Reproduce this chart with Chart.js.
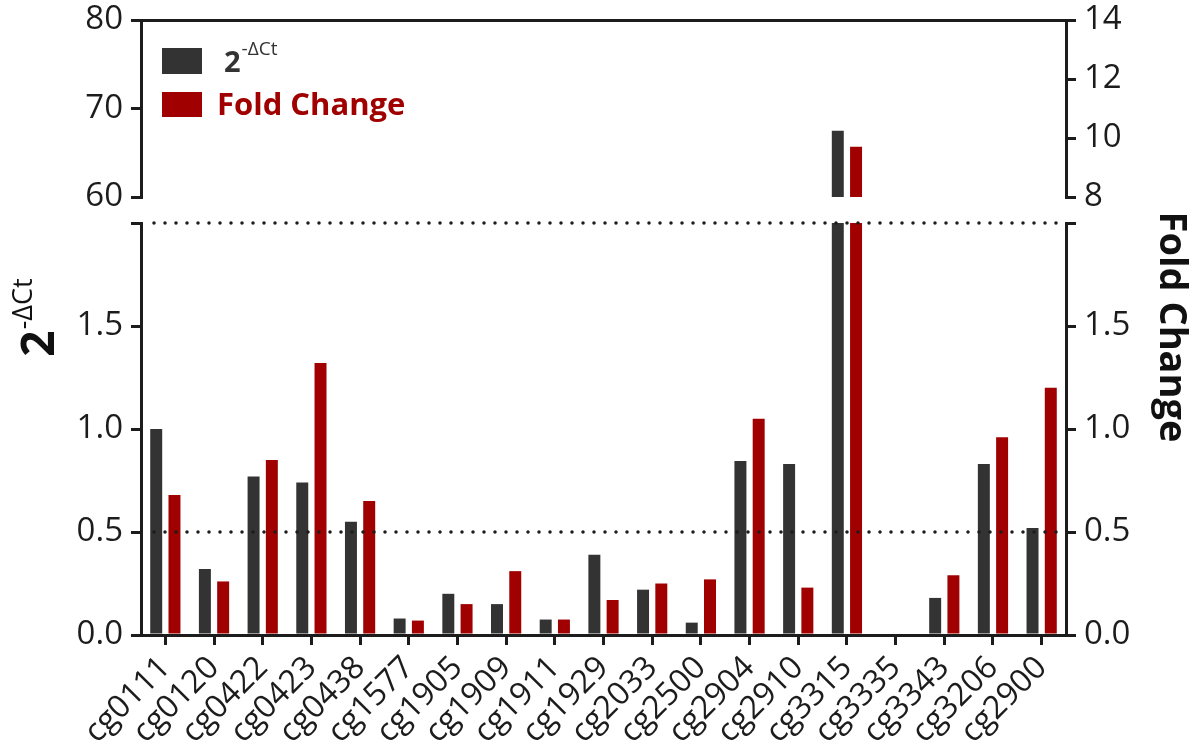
<!DOCTYPE html>
<html>
<head>
<meta charset="utf-8">
<title>2^-ΔCt and fold change per CpG probe</title>
<script src="https://cdn.jsdelivr.net/npm/chart.js@4.4.1/dist/chart.umd.min.js"></script>
<style>
  html, body { margin: 0; padding: 0; background: #ffffff; }
  #stage { position: relative; width: 1198px; height: 749px; overflow: hidden; }
  #stage canvas { position: absolute; left: 0; }
  #lower-canvas { top: 160px; }
  #upper-canvas { top: -40px; }
</style>
</head>
<body>
<div id="stage">
  <canvas id="lower-canvas" width="1198" height="589"></canvas>
  <canvas id="upper-canvas" width="1198" height="280"></canvas>
</div>
<script>
// probes on the x axis
const probes = [
  "cg0111", "cg0120", "cg0422", "cg0423", "cg0438", "cg1577", "cg1905",
  "cg1909", "cg1911", "cg1929", "cg2033", "cg2500", "cg2904", "cg2910",
  "cg3315", "cg3335", "cg3343", "cg3206", "cg2900",
];

// 2^-dCt (left axis) and fold change (right axis)
const deltaCtValues = [
  1.0, 0.32, 0.77, 0.74, 0.55, 0.08, 0.2,
  0.15, 0.075, 0.39, 0.22, 0.06, 0.845, 0.83,
  67.5, 0, 0.18, 0.83, 0.52,
];
const foldChangeValues = [
  0.68, 0.26, 0.85, 1.32, 0.65, 0.07, 0.15,
  0.31, 0.075, 0.17, 0.25, 0.27, 1.05, 0.23,
  9.7, 0, 0.29, 0.96, 1.2,
];

// broken axis: lower segment shared by both axes, upper segment per axis
const lowerTicks = [0, 0.5, 1.0, 1.5, 2.0];
const upperLeftTicks = [60, 70, 80];
const upperRightTicks = [8, 10, 12, 14];
const referenceLevels = [0.5, 2.0];

const INK = "#1c1c1c";
const DARK_BAR = "#333333";
const RED_BAR = "#a00000";
const FONT_FAMILY = "'Open Sans', 'DejaVu Sans', sans-serif";
const TICK_FONT = { family: FONT_FAMILY, size: 33 };
const CATEGORY_FONT = { family: FONT_FAMILY, size: 32 };

const LOWER_TOP = 160; // page offset of the lower canvas
const UPPER_TOP = -40; // page offset of the upper canvas
const LEFT_AXIS_WIDTH = 141;
const RIGHT_AXIS_WIDTH = 132;

function valueAxis(position, tickValues, width, format) {
  return {
    type: "linear",
    position,
    min: tickValues[0],
    max: tickValues[tickValues.length - 1],
    afterBuildTicks(scale) {
      scale.ticks = tickValues.map((value) => ({ value }));
    },
    afterFit(scale) {
      scale.width = width;
    },
    border: { display: true, color: INK, width: 3 },
    grid: { drawOnChartArea: false, color: INK, lineWidth: 3, tickLength: 10 },
    ticks: { color: INK, padding: 8, font: TICK_FONT, callback: format },
  };
}

function barDatasets() {
  return [
    {
      label: "2-ΔCt",
      data: deltaCtValues,
      yAxisID: "yL",
      backgroundColor: DARK_BAR,
      categoryPercentage: 0.75,
      barPercentage: 0.656,
      clip: 0,
    },
    {
      label: "Fold Change",
      data: foldChangeValues,
      yAxisID: "yR",
      backgroundColor: RED_BAR,
      categoryPercentage: 0.75,
      barPercentage: 0.656,
      clip: 0,
    },
  ];
}

const formatLower = (value) => (value === 2 ? "" : Number(value).toFixed(1));
const formatUpper = (value) => String(value);

// dotted reference lines, drawn over the bars
const dottedLines = {
  id: "dottedLines",
  afterDatasetsDraw(chart) {
    const { ctx, chartArea } = chart;
    const scale = chart.scales.yL;
    ctx.save();
    ctx.strokeStyle = INK;
    ctx.lineWidth = 3.5;
    ctx.lineCap = "round";
    ctx.setLineDash([0, 11]);
    referenceLevels.forEach((level) => {
      const y = scale.getPixelForValue(level);
      ctx.beginPath();
      ctx.moveTo(chartArea.left + 13, y);
      ctx.lineTo(chartArea.right - 8, y);
      ctx.stroke();
    });
    ctx.restore();
  },
};

// axis titles span both segments, so they are placed by page position
const axisTitles = {
  id: "axisTitles",
  afterDraw(chart) {
    const ctx = chart.ctx;
    ctx.save();
    ctx.textBaseline = "alphabetic";

    // left: 2 with superscript -ΔCt, reading upwards
    ctx.translate(54, 318 - LOWER_TOP);
    ctx.rotate(-Math.PI / 2);
    ctx.fillStyle = "#111111";
    ctx.font = `bold 46px ${FONT_FAMILY}`;
    const baseWidth = ctx.measureText("2").width;
    ctx.font = `27px ${FONT_FAMILY}`;
    const supWidth = ctx.measureText("-ΔCt").width;
    const startX = -(baseWidth + supWidth) / 2;
    ctx.font = `bold 46px ${FONT_FAMILY}`;
    ctx.textAlign = "left";
    ctx.fillText("2", startX, 0);
    ctx.font = `27px ${FONT_FAMILY}`;
    ctx.fillText("-ΔCt", startX + baseWidth + 1, -22);
    ctx.restore();

    // right: Fold Change, reading downwards
    ctx.save();
    ctx.translate(1160, 327 - LOWER_TOP);
    ctx.rotate(Math.PI / 2);
    ctx.fillStyle = "#111111";
    ctx.font = `bold 38px ${FONT_FAMILY}`;
    ctx.textAlign = "center";
    ctx.textBaseline = "alphabetic";
    ctx.fillText("Fold Change", 0, 0);
    ctx.restore();
  },
};

// legend in the upper-left corner of the upper segment
const cornerLegend = {
  id: "cornerLegend",
  afterDraw(chart) {
    const { ctx, chartArea } = chart;
    const boxX = chartArea.left + 21;
    const y0 = -UPPER_TOP;
    ctx.save();
    ctx.fillStyle = DARK_BAR;
    ctx.fillRect(boxX, y0 + 48, 40, 26);
    ctx.fillStyle = RED_BAR;
    ctx.fillRect(boxX, y0 + 92, 40, 25);

    ctx.textAlign = "left";
    ctx.textBaseline = "alphabetic";
    ctx.fillStyle = DARK_BAR;
    ctx.font = `bold 29px ${FONT_FAMILY}`;
    ctx.fillText("2", boxX + 62, y0 + 72);
    const twoWidth = ctx.measureText("2").width;
    ctx.font = `19px ${FONT_FAMILY}`;
    ctx.fillText("-ΔCt", boxX + 62 + twoWidth + 1, y0 + 55);

    ctx.fillStyle = RED_BAR;
    ctx.font = `bold 31px ${FONT_FAMILY}`;
    ctx.fillText("Fold Change", boxX + 55, y0 + 115);
    ctx.restore();
  },
};

const sharedOptions = {
  responsive: false,
  animation: false,
  events: [],
  plugins: { legend: { display: false }, tooltip: { enabled: false } },
};

// lower segment: 0 to 2 on both axes, with the category axis
new Chart(document.getElementById("lower-canvas").getContext("2d"), {
  type: "bar",
  data: { labels: probes, datasets: barDatasets() },
  options: {
    ...sharedOptions,
    layout: { padding: { top: 223 - LOWER_TOP, right: 0, bottom: 0, left: 0 } },
    scales: {
      x: {
        type: "category",
        offset: true,
        afterFit(scale) {
          scale.height = 114;
        },
        border: { display: true, color: INK, width: 3 },
        grid: { offset: false, drawOnChartArea: false, color: INK, lineWidth: 3, tickLength: 10 },
        ticks: {
          color: INK,
          font: CATEGORY_FONT,
          minRotation: 45,
          maxRotation: 45,
          autoSkip: false,
          padding: 4,
        },
      },
      yL: valueAxis("left", lowerTicks, LEFT_AXIS_WIDTH, formatLower),
      yR: valueAxis("right", lowerTicks, RIGHT_AXIS_WIDTH, formatLower),
    },
  },
  plugins: [dottedLines, axisTitles],
});

// upper segment: 60-80 on the left, 8-14 on the right
new Chart(document.getElementById("upper-canvas").getContext("2d"), {
  type: "bar",
  data: { labels: probes, datasets: barDatasets() },
  options: {
    ...sharedOptions,
    layout: { padding: { top: 0, right: 0, bottom: 280 - (197 - UPPER_TOP), left: 0 } },
    scales: {
      x: {
        type: "category",
        position: "top",
        offset: true,
        afterFit(scale) {
          scale.height = 20 - UPPER_TOP;
        },
        border: { display: true, color: INK, width: 3 },
        grid: { display: false },
        ticks: { display: false },
      },
      yL: valueAxis("left", upperLeftTicks, LEFT_AXIS_WIDTH, formatUpper),
      yR: valueAxis("right", upperRightTicks, RIGHT_AXIS_WIDTH, formatUpper),
    },
  },
  plugins: [cornerLegend],
});
</script>
</body>
</html>
